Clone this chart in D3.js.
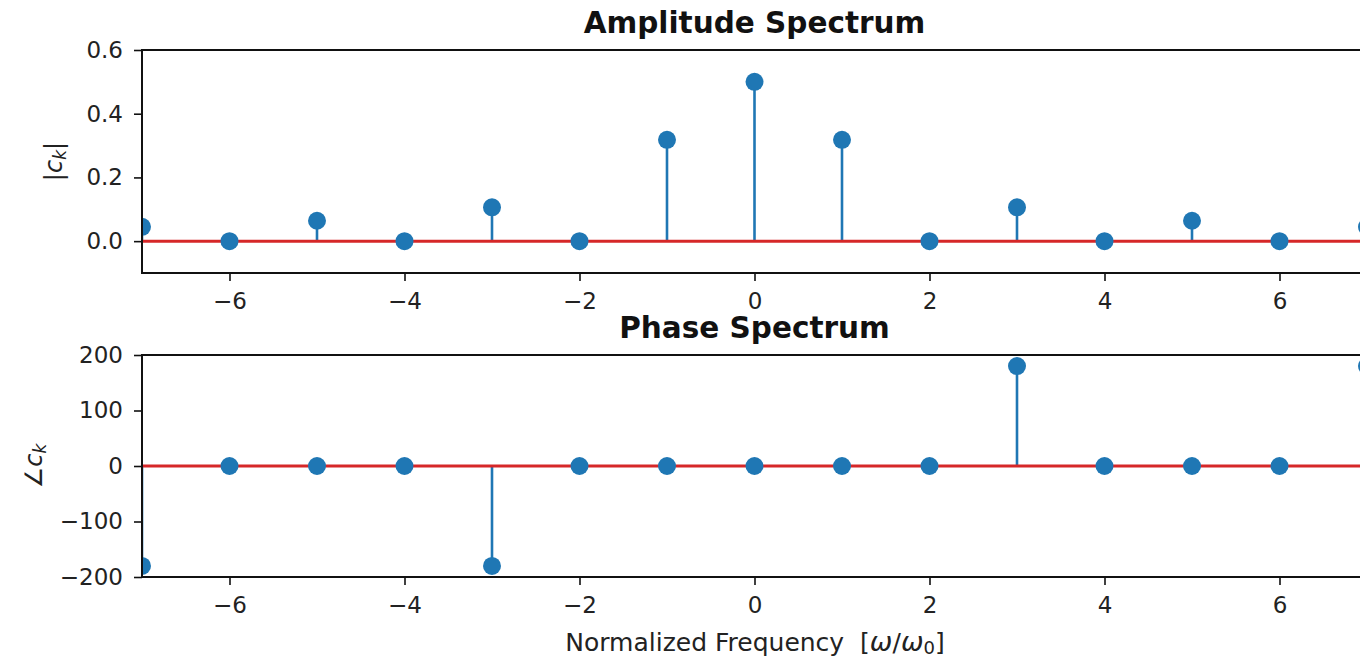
<!DOCTYPE html>
<html>
<head>
<meta charset="utf-8">
<script src="https://cdn.jsdelivr.net/npm/d3@7/dist/d3.min.js"></script>
<style>
  body { margin: 0; background: #fff; }
  svg { display: block; font-family: "DejaVu Sans", sans-serif; }
  .domain { stroke: none; }
</style>
</head>
<body>
<svg id="chart" width="1360" height="659"></svg>
<script>
// harmonic index k
const harmonics = [-7, -6, -5, -4, -3, -2, -1, 0, 1, 2, 3, 4, 5, 6, 7];
// |c_k|
const amplitude = [0.045, 0, 0.064, 0, 0.106, 0, 0.318, 0.5, 0.318, 0, 0.106, 0, 0.064, 0, 0.045];
// angle c_k in degrees
const phase = [-180, 0, 0, 0, -180, 0, 0, 0, 0, 0, 180, 0, 0, 0, 180];

const xTicks = [-6, -4, -2, 0, 2, 4, 6];
const ampTicks = [0.0, 0.2, 0.4, 0.6];
const phaseTicks = [-200, -100, 0, 100, 200];

const BLUE = '#1f77b4', RED = '#d62728';
const FONT = '"DejaVu Sans", sans-serif';
const TICK_SIZE = 23;
const svg = d3.select('#chart');

// axes span past the right edge of the window (figure is cropped)
const left = 142, right = 1367;
const x = d3.scaleLinear().domain([-7, 7]).range([left, right]);
const minus = d => d < 0 ? '\u2212' + Math.abs(d) : d;

function styleAxis(sel) {
  sel.attr('font-family', FONT).attr('font-size', TICK_SIZE);
  sel.selectAll('.tick line').attr('stroke', '#111').attr('stroke-width', 1.6);
  sel.selectAll('.tick text').attr('fill', '#222');
}

function panel(opts) {
  const { top, bottom, yDomain, yTicks, yFmt, values, title, ylabel, id } = opts;
  const y = d3.scaleLinear().domain(yDomain).range([bottom, top]);
  const g = svg.append('g');

  svg.append('defs').append('clipPath').attr('id', id)
    .append('rect').attr('x', left).attr('y', top).attr('width', right - left).attr('height', bottom - top);

  // axes
  g.append('g').attr('transform', `translate(0,${bottom})`)
    .call(d3.axisBottom(x).tickValues(xTicks).tickSize(8).tickPadding(12).tickFormat(minus))
    .call(styleAxis);
  g.append('g').attr('transform', `translate(${left},0)`)
    .call(d3.axisLeft(y).tickValues(yTicks).tickSize(8).tickPadding(11).tickFormat(yFmt))
    .call(styleAxis);

  const plot = g.append('g').attr('clip-path', `url(#${id})`);
  const pts = harmonics.map((k, i) => ({ k, v: values[i] }));

  plot.selectAll('line.stem').data(pts).join('line')
    .attr('x1', d => x(d.k)).attr('x2', d => x(d.k))
    .attr('y1', y(0)).attr('y2', d => y(d.v))
    .attr('stroke', BLUE).attr('stroke-width', 2.6);

  plot.append('line')
    .attr('x1', left).attr('x2', right).attr('y1', y(0)).attr('y2', y(0))
    .attr('stroke', RED).attr('stroke-width', 3);

  plot.selectAll('circle').data(pts).join('circle')
    .attr('cx', d => x(d.k)).attr('cy', d => y(d.v)).attr('r', 9)
    .attr('fill', BLUE);

  // frame
  g.append('rect').attr('x', left).attr('y', top)
    .attr('width', right - left).attr('height', bottom - top)
    .attr('fill', 'none').attr('stroke', '#111').attr('stroke-width', 2);

  g.append('text').attr('x', (left + right) / 2).attr('y', top - 17)
    .attr('text-anchor', 'middle').attr('font-size', 29.5).attr('font-weight', 'bold')
    .attr('fill', '#111').text(title);

  const yl = g.append('text')
    .attr('transform', `translate(${opts.ylabelX},${(top + bottom) / 2}) rotate(-90)`)
    .attr('text-anchor', 'middle').attr('font-size', 24).attr('fill', '#222');
  ylabel(yl);
}

panel({
  id: 'clipA', top: 50, bottom: 273, yDomain: [-0.1, 0.6], yTicks: ampTicks,
  yFmt: d => d.toFixed(1), values: amplitude, title: 'Amplitude Spectrum', ylabelX: 62,
  ylabel: t => {
    t.append('tspan').text('|');
    t.append('tspan').attr('font-style', 'italic').text('c');
    t.append('tspan').attr('font-style', 'italic').attr('font-size', 17).attr('dy', 4).text('k');
    t.append('tspan').attr('dy', -4).text('|');
  }
});

panel({
  id: 'clipP', top: 355, bottom: 577, yDomain: [-200, 200], yTicks: phaseTicks,
  yFmt: minus, values: phase, title: 'Phase Spectrum', ylabelX: 42,
  ylabel: t => {
    t.append('tspan').text('\u2220');
    t.append('tspan').attr('font-style', 'italic').text('c');
    t.append('tspan').attr('font-style', 'italic').attr('font-size', 17).attr('dy', 4).text('k');
  }
});

const xl = svg.append('text').attr('x', 755).attr('y', 651)
  .attr('text-anchor', 'middle').attr('font-size', 25).attr('fill', '#222')
  .style('white-space', 'pre');
xl.append('tspan').text('Normalized Frequency  [');
xl.append('tspan').attr('font-style', 'italic').attr('font-size', 27).text('\u03c9');
xl.append('tspan').text('/');
xl.append('tspan').attr('font-style', 'italic').attr('font-size', 27).text('\u03c9');
xl.append('tspan').attr('font-size', 18).attr('dy', 3).text('0');
xl.append('tspan').attr('dy', -3).text(']');
</script>
</body>
</html>
